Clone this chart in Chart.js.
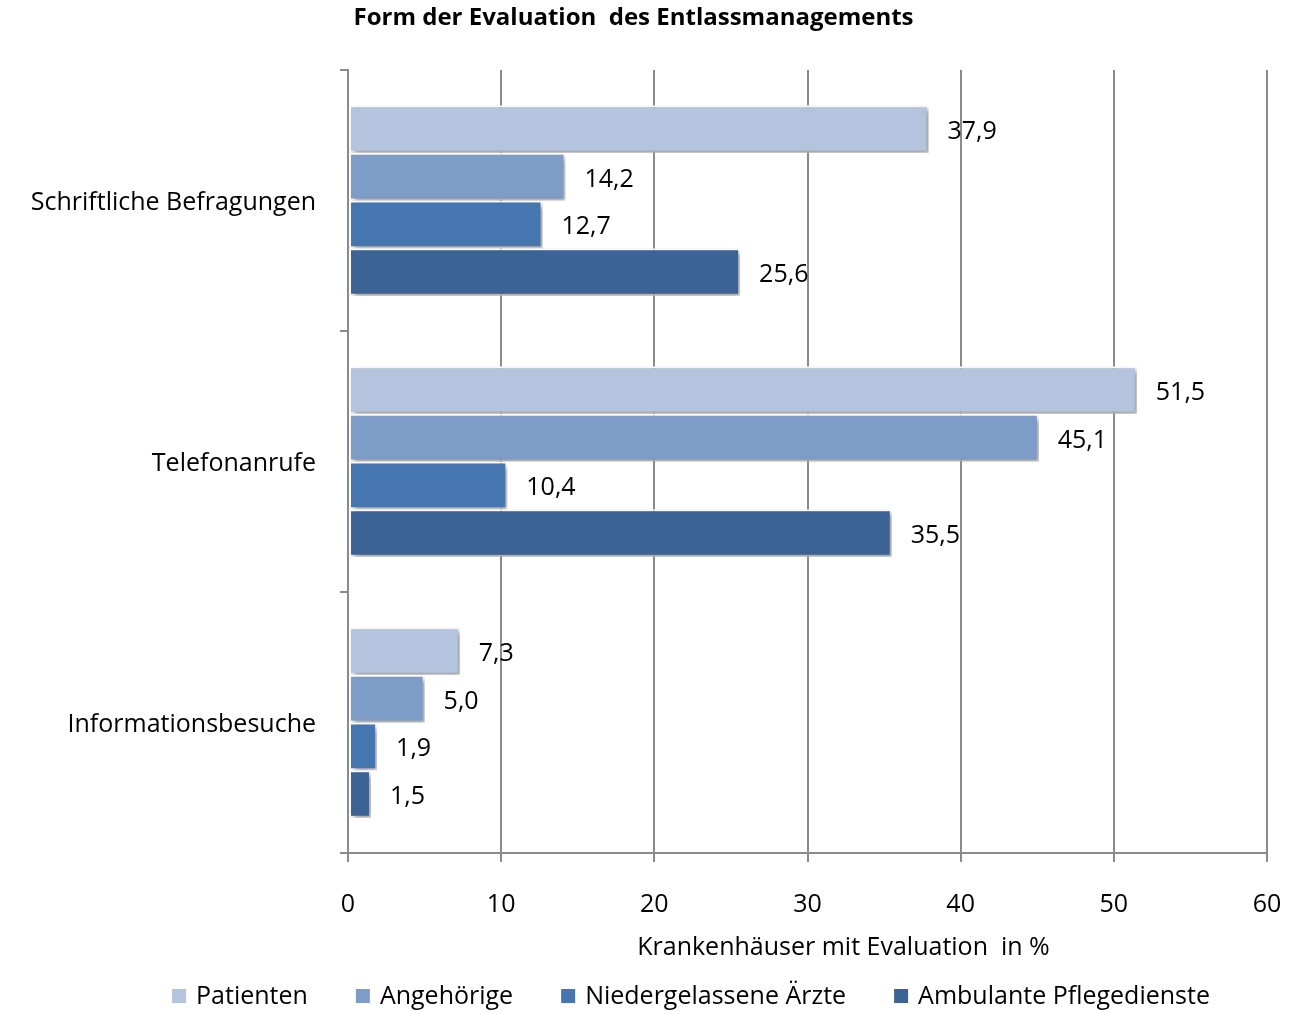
<!DOCTYPE html>
<html>
<head>
<meta charset="utf-8">
<script src="https://cdn.jsdelivr.net/npm/chart.js@4/dist/chart.umd.min.js"></script>
<style>
  html, body { margin: 0; padding: 0; background: #fff; }
  #wrap { width: 1289px; height: 1014px; position: relative; }
</style>
</head>
<body>
<div id="wrap"><canvas id="c" width="1289" height="1014"></canvas></div>
<script>
const categories = ['Schriftliche Befragungen', 'Telefonanrufe', 'Informationsbesuche'];
const seriesNames = ['Patienten', 'Angehörige', 'Niedergelassene Ärzte', 'Ambulante Pflegedienste'];
const patienten = [37.9, 51.5, 7.3];
const angehoerige = [14.2, 45.1, 5.0];
const niedergelassene = [12.7, 10.4, 1.9];
const ambulante = [25.6, 35.5, 1.5];
const xTicks = [0, 10, 20, 30, 40, 50, 60];
const titleText = 'Form der Evaluation  des Entlassmanagements';
const xTitleText = 'Krankenhäuser mit Evaluation  in %';

const colors = ['#B4C3DE', '#7E9CC8', '#4676AF', '#3C6395'];
const FONT = '"Open Sans", Lato, sans-serif';
const FS = 25;
const seriesValues = [patienten, angehoerige, niedergelassene, ambulante];

const datasets = seriesNames.map((n, i) => ({
  label: n,
  data: seriesValues[i],
  backgroundColor: colors[i],
  borderColor: '#ffffff',
  borderWidth: 2,
  borderSkipped: false,
  categoryPercentage: 0.73,
  barPercentage: 1.0
}));

const fmt = v => v.toFixed(1).replace('.', ',');

const shadowPlugin = {
  id: 'shadow',
  beforeDatasetsDraw(chart) {
    const ctx = chart.ctx;
    ctx.save();
    ctx.shadowColor = 'rgba(0,0,0,0.38)';
    ctx.shadowBlur = 5;
    ctx.shadowOffsetX = 3;
    ctx.shadowOffsetY = 3;
  },
  afterDatasetsDraw(chart) {
    chart.ctx.restore();
  }
};

const labelPlugin = {
  id: 'valueLabels',
  afterDraw(chart) {
    const ctx = chart.ctx;
    ctx.save();
    ctx.font = FS + 'px ' + FONT;
    ctx.fillStyle = '#000';
    ctx.textBaseline = 'middle';
    ctx.textAlign = 'left';
    chart.data.datasets.forEach((ds, di) => {
      const meta = chart.getDatasetMeta(di);
      meta.data.forEach((el, i) => {
        ctx.fillText(fmt(ds.data[i]), el.x + 19, el.y + 3);
      });
    });
    // x axis title
    const xs = chart.scales.x;
    ctx.textAlign = 'center';
    ctx.fillText(xTitleText, (xs.left + xs.right) / 2 + 36, 948);
    // legend
    const box = 14, gapBoxText = 10, gapItems = 48;
    const items = chart.data.datasets.map(ds => ({ label: ds.label, color: ds.backgroundColor, w: ctx.measureText(ds.label).width }));
    let total = items.reduce((s, it) => s + box + gapBoxText + it.w, 0) + gapItems * (items.length - 1);
    let x = 691 - total / 2;
    const ly = 997;
    ctx.textAlign = 'left';
    items.forEach(it => {
      ctx.fillStyle = it.color;
      ctx.fillRect(x, ly - 8, box, box);
      ctx.fillStyle = '#000';
      ctx.fillText(it.label, x + box + gapBoxText, ly);
      x += box + gapBoxText + it.w + gapItems;
    });
    ctx.restore();
  }
};

new Chart(document.getElementById('c'), {
  type: 'bar',
  data: { labels: categories, datasets },
  options: {
    indexAxis: 'y',
    responsive: false,
    animation: false,
    layout: { padding: { left: 0, right: 22, top: 0, bottom: 0 } },
    plugins: {
      legend: { display: false },
      tooltip: { enabled: false },
      title: {
        display: true,
        text: titleText,
        color: '#000',
        font: { family: FONT, size: 24, weight: 'bold' },
        padding: { top: 4, bottom: 37.2 }
      }
    },
    scales: {
      x: {
        min: 0, max: 60,
        afterBuildTicks(scale) { scale.ticks = xTicks.map(v => ({ value: v })); },
        afterFit(scale) { scale.height = 161; scale.paddingRight = 0; scale.paddingLeft = 0; },
        grid: { color: '#8a8a8a', lineWidth: 2, tickLength: 9, drawTicks: true },
        border: { display: true, color: '#8a8a8a', width: 2 },
        ticks: { color: '#000', font: { family: FONT, size: FS }, padding: 28, maxRotation: 0 }
      },
      y: {
        afterFit(scale) { scale.width = 348; scale.paddingTop = 0; scale.paddingBottom = 0; },
        grid: { display: true, drawOnChartArea: false, drawTicks: true, tickLength: 8, color: '#8a8a8a', lineWidth: 2, offset: true },
        border: { display: true, color: '#8a8a8a', width: 2 },
        ticks: { color: '#000', font: { family: FONT, size: FS }, padding: 24, labelOffset: 2 }
      }
    }
  },
  plugins: [shadowPlugin, labelPlugin]
});
</script>
</body>
</html>
